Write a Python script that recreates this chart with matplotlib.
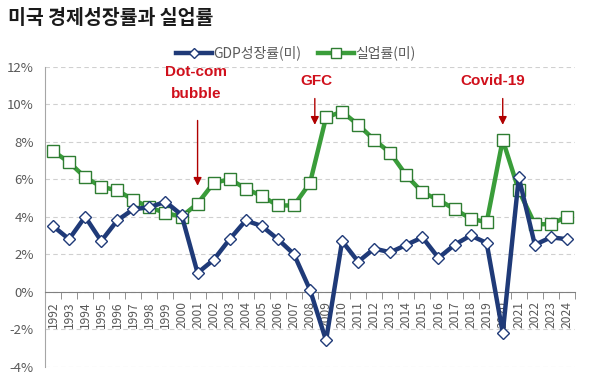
import matplotlib
matplotlib.use("Agg")
import matplotlib.pyplot as plt
import numpy as np
from matplotlib.lines import Line2D

plt.rcParams['font.family'] = ['Noto Sans CJK KR', 'DejaVu Sans']

years = [str(y) for y in range(1992, 2025)]
gdp = [3.5, 2.8, 4.0, 2.7, 3.8, 4.4, 4.5, 4.8, 4.1, 1.0, 1.7, 2.8, 3.8, 3.5, 2.8, 2.0,
       0.1, -2.6, 2.7, 1.6, 2.3, 2.1, 2.5, 2.9, 1.8, 2.5, 3.0, 2.6, -2.2, 6.1, 2.5, 2.9, 2.8]
unemp = [7.5, 6.9, 6.1, 5.6, 5.4, 4.9, 4.5, 4.2, 4.0, 4.7, 5.8, 6.0, 5.5, 5.1, 4.6, 4.6,
         5.8, 9.3, 9.6, 8.9, 8.1, 7.4, 6.2, 5.3, 4.9, 4.4, 3.9, 3.7, 8.1, 5.4, 3.6, 3.6, 4.0]
yticks = [-4, -2, 0, 2, 4, 6, 8, 10, 12]
title = "미국 경제성장률과 실업률"
labels = ["GDP성장률(미)", "실업률(미)"]

navy = '#1F3A78'
green = '#3A9D3A'
red = '#D0101C'
gray = '#595959'
afont = dict(family=['Liberation Sans', 'DejaVu Sans'], size=11, weight='bold')

fig = plt.figure(figsize=(5.92, 3.90), dpi=100)
ax = fig.add_axes([45/592, 1-366.7/390, 530/592, 300/390])

x = np.arange(len(years))
ax.plot(x, unemp, color=green, lw=3.2, marker='s', ms=8.5, mfc='white', mec='#2E7D32',
        mew=1.0, zorder=3, label=labels[1])
ax.plot(x, gdp, color=navy, lw=3.2, marker='D', ms=6.5, mfc='white', mec=navy,
        mew=1.0, zorder=4, label=labels[0])

ax.set_xlim(-0.5, len(years) - 0.5)
ax.set_ylim(-4, 12)
ax.set_yticks(yticks)
ax.set_yticklabels([f"{v}%" for v in yticks], fontsize=9.5, color=gray)
ax.yaxis.grid(True, linestyle=(0, (4, 3)), color='#D0D0D0', lw=0.8)
ax.set_axisbelow(True)
ax.tick_params(axis='y', length=0, pad=8)

for s in ['top', 'right']:
    ax.spines[s].set_visible(False)
ax.spines['left'].set_color('#A6A6A6')
ax.spines['bottom'].set_position(('data', 0))
ax.spines['bottom'].set_color('#808080')

ax.set_xticks(x)
ax.set_xticklabels(years, rotation=90, fontsize=8.7, color=gray)
ax.set_xticks(np.arange(-0.5, len(years), 1), minor=True)
ax.tick_params(axis='x', which='major', length=0, pad=7)
ax.tick_params(axis='x', which='minor', length=5, color='#808080', direction='out')
for lab in ax.get_xticklabels():
    lab.set_verticalalignment('top')

# annotations
ax.text(8.9, 11.73, "Dot-com", ha='center', va='center', color=red, **afont)
ax.text(8.9, 10.56, "bubble", ha='center', va='center', color=red, **afont)
ax.annotate("", xy=(9.0, 5.5), xytext=(9.0, 9.28),
            arrowprops=dict(arrowstyle='-|>', color='#B00000', lw=1.0, mutation_scale=12))
ax.text(16.4, 11.25, "GFC", ha='center', va='center', color=red, **afont)
ax.annotate("", xy=(16.3, 8.75), xytext=(16.3, 10.45),
            arrowprops=dict(arrowstyle='-|>', color='#B00000', lw=1.0, mutation_scale=12))
ax.text(27.4, 11.25, "Covid-19", ha='center', va='center', color=red, **afont)
ax.annotate("", xy=(28.0, 8.75), xytext=(28.0, 10.45),
            arrowprops=dict(arrowstyle='-|>', color='#B00000', lw=1.0, mutation_scale=12))

# legend
handles = [Line2D([], [], color=navy, lw=3.2, marker='D', ms=5.5, mfc='white', mec=navy),
           Line2D([], [], color=green, lw=3.2, marker='s', ms=7, mfc='white', mec='#2E7D32')]
fig.legend(handles, labels, loc='center', bbox_to_anchor=(296/592, 1-53/390), ncol=2,
           frameon=False, fontsize=10, handlelength=2.6, columnspacing=1.2, handletextpad=0.1,
           labelcolor=gray)

fig.text(8/592, 1-18/390, title, ha='left', va='center', fontsize=14, fontweight='bold',
         color='#1A1A1A')

fig.savefig("out.png", dpi=100)
